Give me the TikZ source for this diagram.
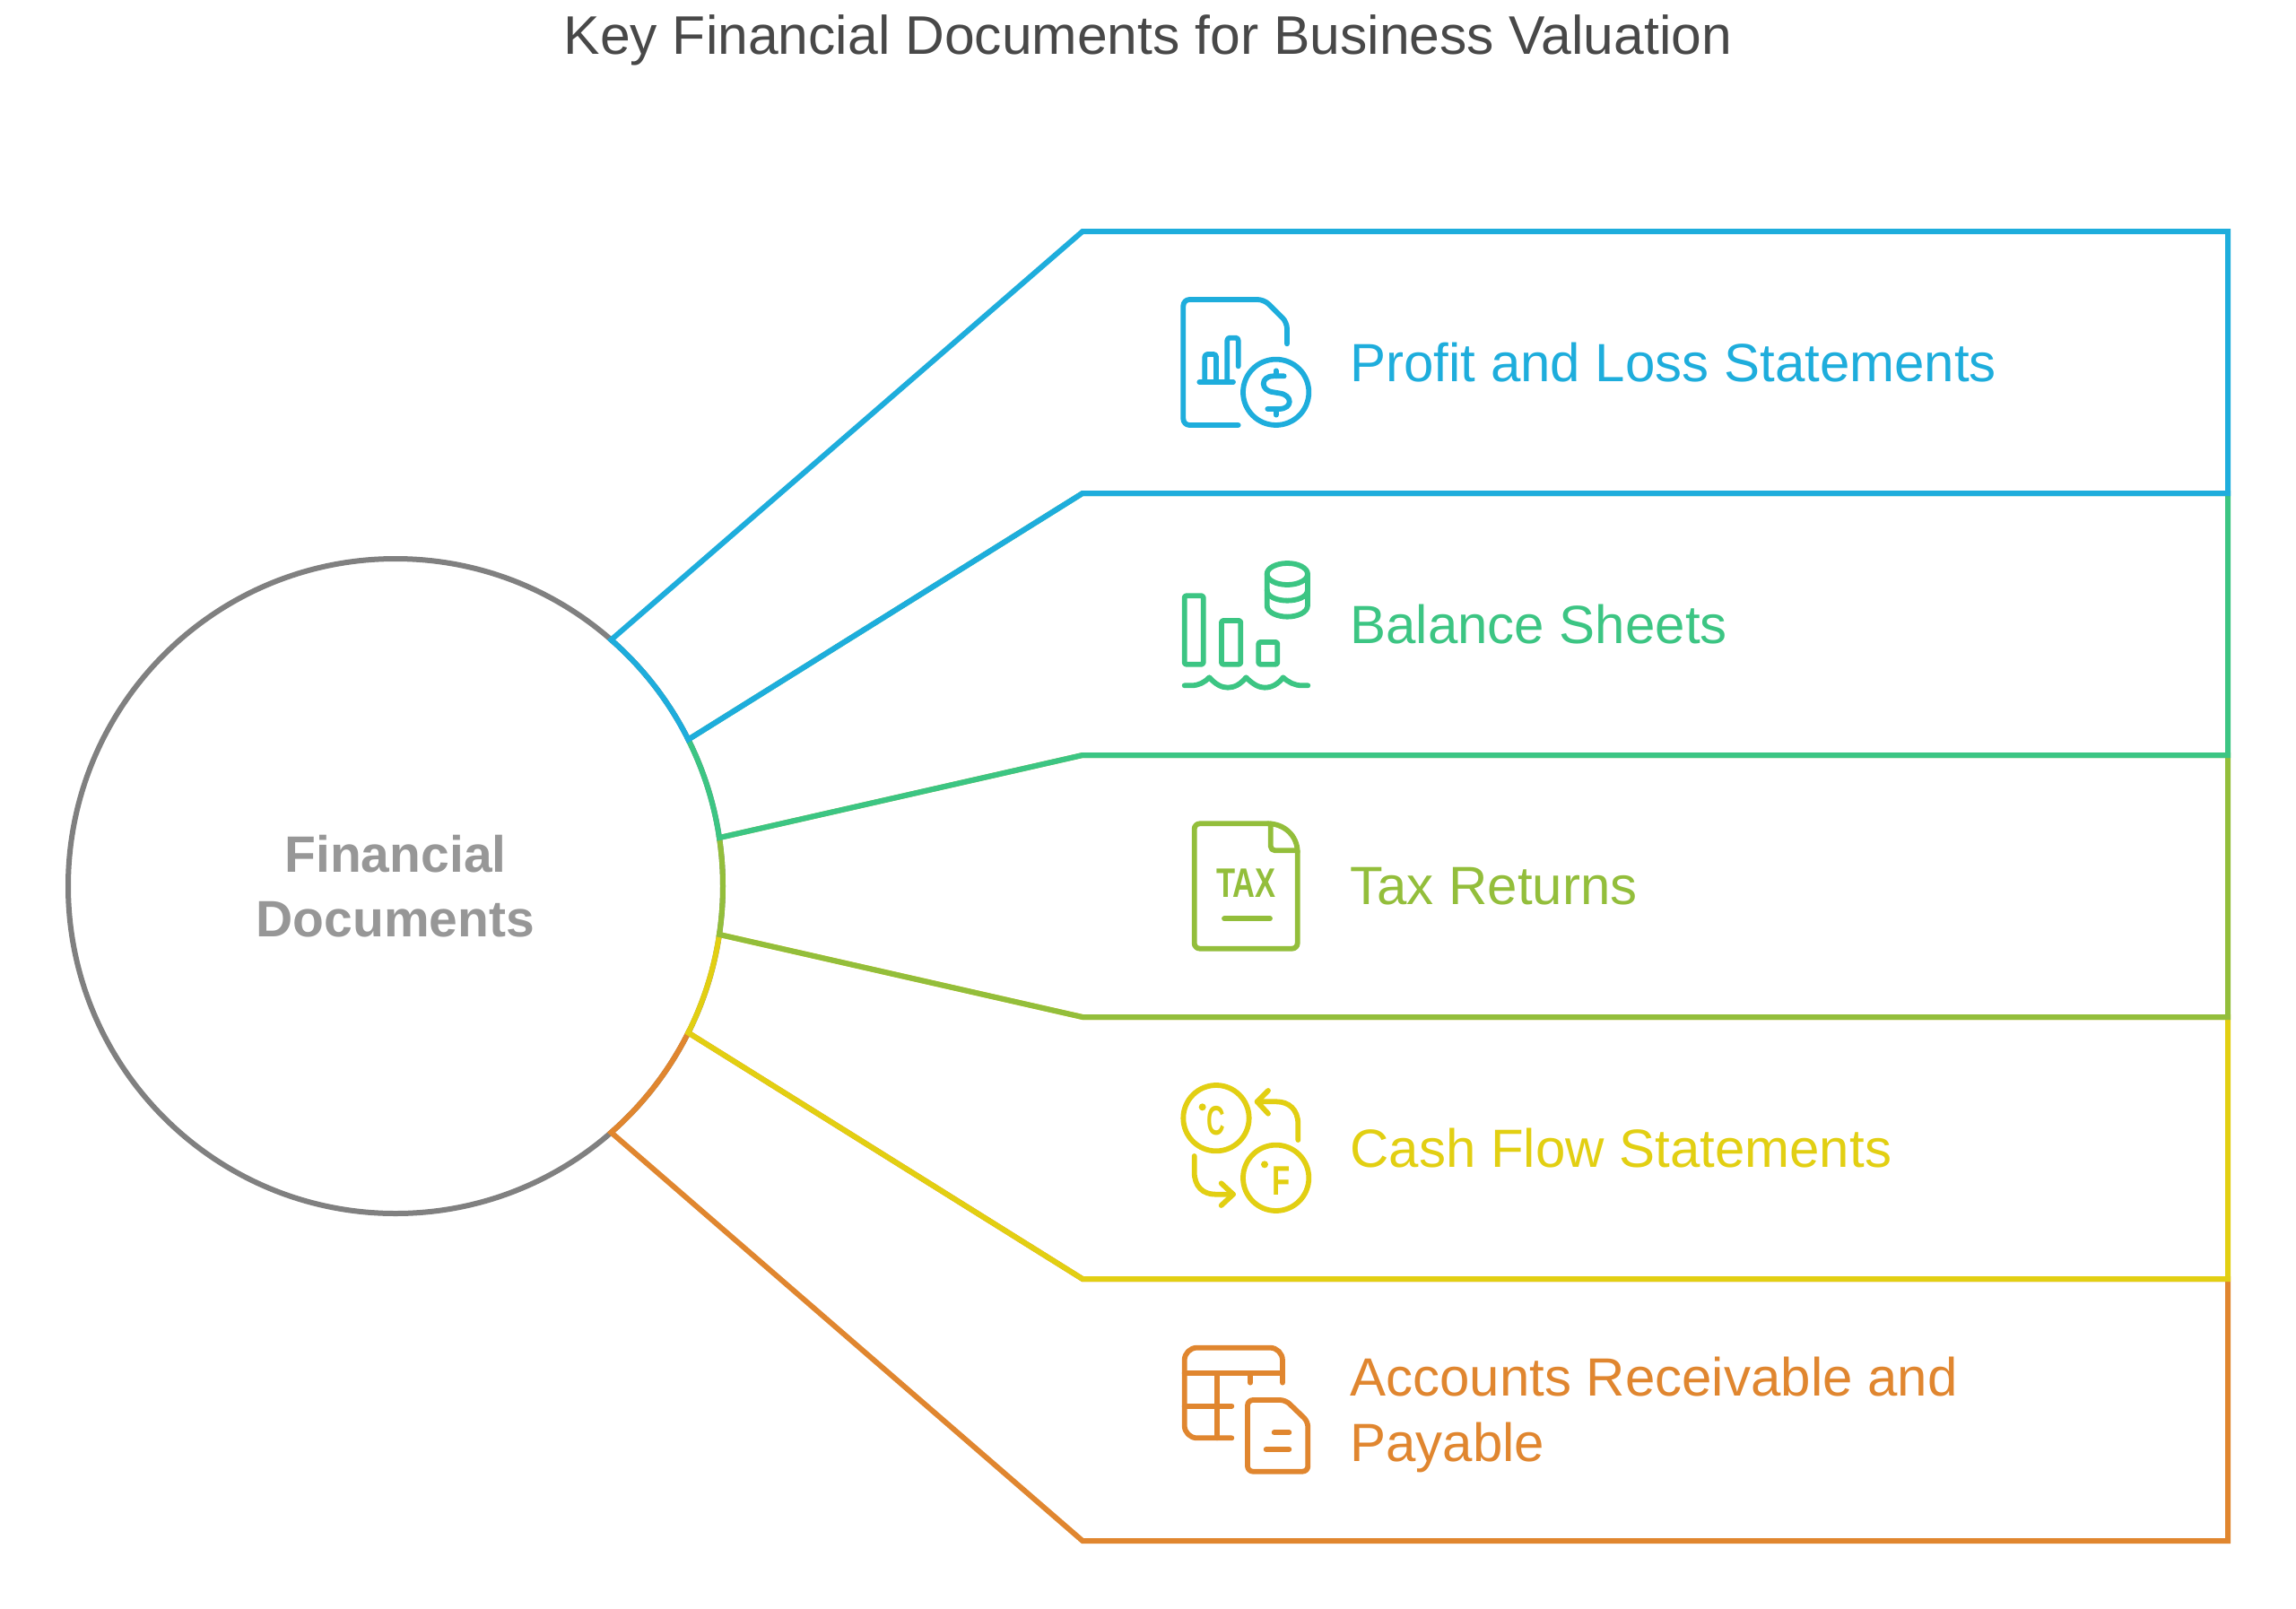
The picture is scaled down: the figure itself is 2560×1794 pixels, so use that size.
\documentclass[tikz,border=0pt]{standalone}
\usepackage{fontspec}
\setmainfont{Liberation Sans}
\definecolor{bandblue}{HTML}{1EADDC}
\definecolor{bandgreen}{HTML}{3CC583}
\definecolor{bandlime}{HTML}{93BE3B}
\definecolor{bandyellow}{HTML}{E2CF12}
\definecolor{bandorange}{HTML}{E0862F}
\definecolor{rootgray}{HTML}{808080}
\definecolor{roottext}{HTML}{979797}
\definecolor{titlegray}{HTML}{484848}
\tikzset{
  rootcircle/.style={circle, draw=rootgray, line width=6pt, minimum size=730pt, inner sep=0pt, outer sep=0pt,
                     align=center, text=roottext, font=\fontsize{57}{72.5}\selectfont\bfseries},
  band/.style={line width=6pt, miter limit=10},
  bandlabel/.style={anchor=west, align=left, font=\fontsize{60}{73}\selectfont},
  icon/.style={line width=5.8pt, line cap=round, line join=round},
  zoomed/.style={x=0.3333pt, y=-0.3333pt},
}
\begin{document}
\begin{tikzpicture}[x=1pt, y=-1pt]
  \path[use as bounding box, fill=white] (0,0) rectangle (2560,1794);

  \node[font=\fontsize{60.6}{66}\selectfont, text=titlegray] (title) at (1280,45) {Key Financial Documents for Business Valuation};
  \node[rootcircle] (root) at (441,988) {Financial\\Documents};

  \coordinate (joint0) at ([shift={(48.8:365pt)}]root.center);
  \coordinate (joint1) at ([shift={(26.6:365pt)}]root.center);
  \coordinate (joint2) at ([shift={(8.5:365pt)}]root.center);
  \coordinate (joint3) at ([shift={(-8.5:365pt)}]root.center);
  \coordinate (joint4) at ([shift={(-26.6:365pt)}]root.center);
  \coordinate (joint5) at ([shift={(-48.8:365pt)}]root.center);
  \coordinate (kink0) at (1207,258);
  \coordinate (kink1) at (1207,550);
  \coordinate (kink2) at (1207,842);
  \coordinate (kink3) at (1207,1134);
  \coordinate (kink4) at (1207,1426);
  \coordinate (kink5) at (1207,1718);
  \coordinate (edge0) at (2484,258);
  \coordinate (edge1) at (2484,550);
  \coordinate (edge2) at (2484,842);
  \coordinate (edge3) at (2484,1134);
  \coordinate (edge4) at (2484,1426);
  \coordinate (edge5) at (2484,1718);

  % bottom band first, each upper band lies over the next one
  \draw[band, bandorange] (joint4) arc[start angle=-26.6, end angle=-48.8, radius=365pt] -- (kink5) -- (edge5) -- (edge4) -- (kink4) -- cycle;
  \draw[band, bandyellow] (joint3) arc[start angle=-8.5, end angle=-26.6, radius=365pt] -- (kink4) -- (edge4) -- (edge3) -- (kink3) -- cycle;
  \draw[band, bandlime] (joint2) arc[start angle=8.5, end angle=-8.5, radius=365pt] -- (kink3) -- (edge3) -- (edge2) -- (kink2) -- cycle;
  \draw[band, bandgreen] (joint1) arc[start angle=26.6, end angle=8.5, radius=365pt] -- (kink2) -- (edge2) -- (edge1) -- (kink1) -- cycle;
  \draw[band, bandblue] (joint0) arc[start angle=48.8, end angle=26.6, radius=365pt] -- (kink1) -- (edge1) -- (edge0) -- (kink0) -- cycle;

  \node[bandlabel, text=bandblue] (label1) at (1502,404) {Profit and Loss Statements};
  \node[bandlabel, text=bandgreen] (label2) at (1502,696) {Balance Sheets};
  \node[bandlabel, text=bandlime] (label3) at (1502,988) {Tax Returns};
  \node[bandlabel, text=bandyellow] (label4) at (1502,1280) {Cash Flow Statements};
  \node[bandlabel, text=bandorange] (label5) at (1502,1577) {Accounts Receivable and\\Payable};

  % icons, drawn in the units of the 3x crops
  \begin{scope}[shift={(1290,310)}, zoomed, icon, draw=bandblue]
    \draw[rounded corners=7pt] (272,492) -- (88,492) -- (88,72) -- (358,72) -- (435,148) -- (435,220);
    \draw (142,348) -- (255,348);
    \draw[rounded corners=3pt] (160,348) -- (160,255) -- (198,255) -- (198,348);
    \draw[rounded corners=3pt] (235,348) -- (235,200) -- (272,200) -- (272,295);
    \draw (398,382) circle[radius=110];
    \draw (398,310) -- (398,328) (398,438) -- (398,458);
    \draw (425,328) -- (390,328) .. controls (345,328) and (345,378) .. (390,382) -- (408,385) .. controls (455,390) and (455,438) .. (408,438) -- (370,438);
  \end{scope}

  \begin{scope}[shift={(1290,610)}, zoomed, icon, draw=bandgreen]
    \draw[rounded corners=1.5pt] (92,163) rectangle (155,392);
    \draw[rounded corners=1.5pt] (216,246) rectangle (280,392);
    \draw[rounded corners=1.5pt] (340,318) rectangle (403,392);
    \draw (92,463) -- (115,463) .. controls (140,463) and (160,452) .. (175,436)
      .. controls (195,458) and (215,470) .. (237,470) .. controls (260,470) and (280,458) .. (298,436)
      .. controls (320,458) and (340,470) .. (360,470) .. controls (385,470) and (405,458) .. (422,436)
      .. controls (440,452) and (460,463) .. (485,463) -- (505,463);
    \draw (436,90) ellipse[x radius=68, y radius=36];
    \draw (368,90) -- (368,195) .. controls (368,220) and (405,233) .. (436,233) .. controls (467,233) and (504,220) .. (504,195) -- (504,90);
    \draw (368,143) .. controls (368,168) and (405,179) .. (436,179) .. controls (467,179) and (504,168) .. (504,143);
  \end{scope}

  \begin{scope}[shift={(1290,900)}, zoomed, icon, draw=bandlime]
    \draw[rounded corners=6pt] (372,55) -- (125,55) -- (125,473) -- (470,473) -- (470,150);
    \draw (470,150) .. controls (470,95) and (425,55) .. (372,55);
    \draw[rounded corners=5pt] (380,55) -- (380,145) -- (470,145);
    \draw (225,373) -- (378,373);
    \node[text=bandlime, xscale=0.75, font=\fontsize{46}{46}\selectfont\bfseries] (taxword) at (299,255) {TAX};
  \end{scope}

  \begin{scope}[shift={(1290,1190)}, zoomed, icon, draw=bandyellow]
    \draw (198,170) circle[radius=110];
    \draw (398,370) circle[radius=110];
    \fill[bandyellow] (152,133) circle[radius=12];
    \fill[bandyellow] (360,325) circle[radius=12];
    \node[text=bandyellow, xscale=0.62, font=\fontsize{46}{46}\selectfont\bfseries] (cword) at (198,178) {C};
    \node[text=bandyellow, xscale=0.72, font=\fontsize{46}{46}\selectfont\bfseries] (fword) at (415,380) {F};
    \draw (472,243) -- (472,190) .. controls (472,140) and (440,115) .. (400,115) -- (335,115);
    \draw (372,78) -- (335,115) -- (372,155);
    \draw (125,297) -- (125,350) .. controls (125,400) and (155,425) .. (195,425) -- (255,425);
    \draw (215,388) -- (255,425) -- (215,462);
  \end{scope}

  \begin{scope}[shift={(1290,1490)}, zoomed, icon, draw=bandorange]
    \draw[rounded corners=14pt] (250,340) -- (92,340) -- (92,38) -- (420,38) -- (420,155);
    \draw (92,123) -- (420,123) (202,123) -- (202,340) (92,233) -- (250,233) (312,123) -- (312,155);
    \draw[rounded corners=6pt] (430,213) -- (303,213) -- (303,452) -- (505,452) -- (505,285) -- cycle;
    \draw (392,322) -- (442,322) (365,378) -- (442,378);
  \end{scope}
\end{tikzpicture}
\end{document}
